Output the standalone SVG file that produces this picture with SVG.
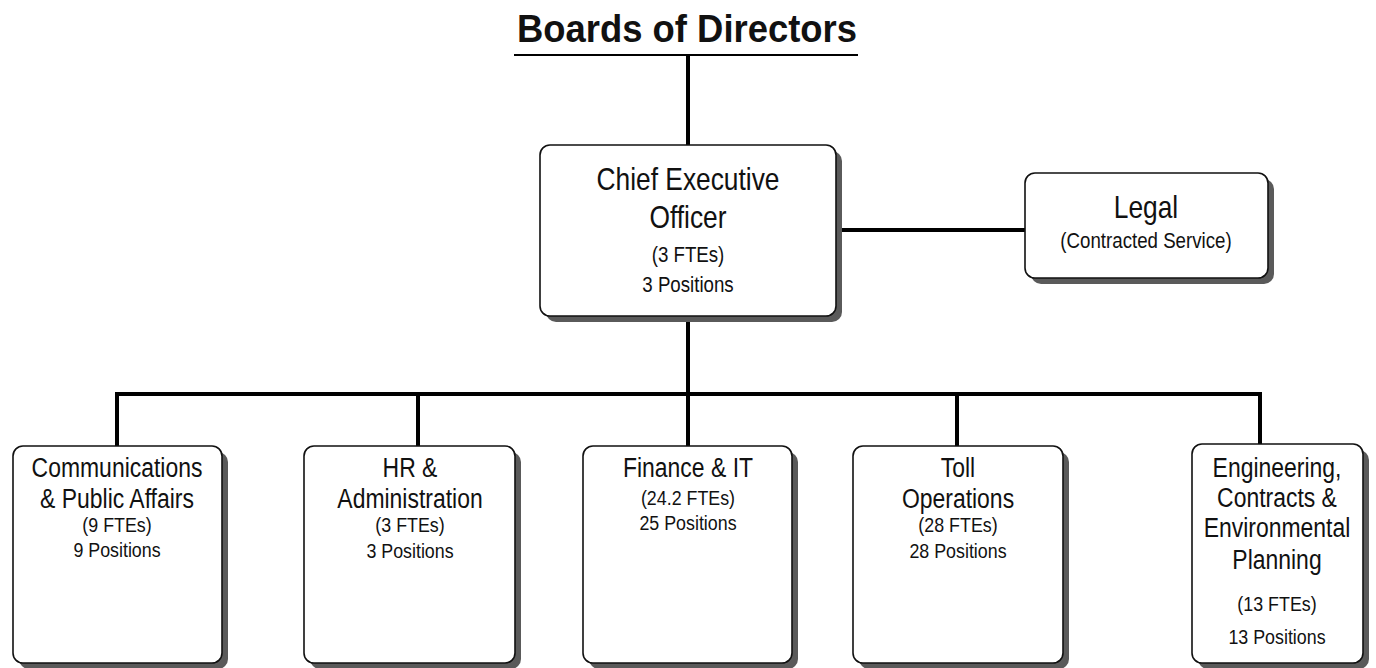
<svg xmlns="http://www.w3.org/2000/svg" width="1376" height="668" viewBox="0 0 1376 668">
<style>
text{font-family:"Liberation Sans",Arial,sans-serif;text-anchor:middle;fill:#111}
.title{font-weight:bold;font-size:39px}
.lg{font-size:27px}
.sm{font-size:21px}
.clg{font-size:31px}
.csm{font-size:22px}
.box{fill:#fff;stroke:#111;stroke-width:1.6}
.shadow{fill:#5a5a5a}
.conn{stroke:#000;stroke-width:4;fill:none}
</style>
<rect width="1376" height="668" fill="#fff"/>
<g id="title">
<text class="title" x="687" y="42" textLength="340" lengthAdjust="spacingAndGlyphs">Boards of Directors</text>
<line x1="514" y1="55" x2="858" y2="55" stroke="#000" stroke-width="2"/>
</g>
<g id="connectors">
<line class="conn" x1="688" y1="56" x2="688" y2="146"/>
<line class="conn" x1="836" y1="230" x2="1026" y2="230"/>
<line class="conn" x1="688" y1="316" x2="688" y2="447"/>
<polyline class="conn" points="117,447 117,394 1260,394 1260,444"/>
<line class="conn" x1="418" y1="394" x2="418" y2="447"/>
<line class="conn" x1="957" y1="394" x2="957" y2="447"/>
</g>
<g id="ceo">
<rect class="shadow" x="546" y="151" width="296" height="171" rx="10"/>
<rect class="box" x="540" y="145" width="296" height="171" rx="10"/>
<g transform="translate(688,0) scale(0.85,1)">
<text class="clg" y="190">Chief Executive</text>
<text class="clg" y="228">Officer</text>
<text class="csm" y="262">(3 FTEs)</text>
<text class="csm" y="292">3 Positions</text>
</g>
</g>
<g id="legal">
<rect class="shadow" x="1031" y="179" width="243" height="105" rx="10"/>
<rect class="box" x="1025" y="173" width="243" height="105" rx="10"/>
<g transform="translate(1146,0) scale(0.85,1)">
<text class="clg" y="218">Legal</text>
<text class="csm" y="248">(Contracted Service)</text>
</g>
</g>
<g id="comm">
<rect class="shadow" x="19" y="452" width="209" height="217" rx="10"/>
<rect class="box" x="13" y="446" width="209" height="217" rx="10"/>
<g transform="translate(117,0) scale(0.85,1)">
<text class="lg" y="477">Communications</text>
<text class="lg" y="508">&amp; Public Affairs</text>
<text class="sm" y="532">(9 FTEs)</text>
<text class="sm" y="557">9 Positions</text>
</g>
</g>
<g id="hr">
<rect class="shadow" x="310" y="452" width="211" height="217" rx="10"/>
<rect class="box" x="304" y="446" width="211" height="217" rx="10"/>
<g transform="translate(410,0) scale(0.85,1)">
<text class="lg" y="477">HR &amp;</text>
<text class="lg" y="508">Administration</text>
<text class="sm" y="532">(3 FTEs)</text>
<text class="sm" y="558">3 Positions</text>
</g>
</g>
<g id="finance">
<rect class="shadow" x="589" y="452" width="209" height="217" rx="10"/>
<rect class="box" x="583" y="446" width="209" height="217" rx="10"/>
<g transform="translate(688,0) scale(0.85,1)">
<text class="lg" y="477">Finance &amp; IT</text>
<text class="sm" y="505">(24.2 FTEs)</text>
<text class="sm" y="530">25 Positions</text>
</g>
</g>
<g id="toll">
<rect class="shadow" x="859" y="452" width="210" height="217" rx="10"/>
<rect class="box" x="853" y="446" width="210" height="217" rx="10"/>
<g transform="translate(958,0) scale(0.85,1)">
<text class="lg" y="477">Toll</text>
<text class="lg" y="508">Operations</text>
<text class="sm" y="532">(28 FTEs)</text>
<text class="sm" y="558">28 Positions</text>
</g>
</g>
<g id="eng">
<rect class="shadow" x="1198" y="450" width="171" height="219" rx="10"/>
<rect class="box" x="1192" y="444" width="171" height="219" rx="10"/>
<g transform="translate(1277,0) scale(0.85,1)">
<text class="lg" y="477">Engineering,</text>
<text class="lg" y="507">Contracts &amp;</text>
<text class="lg" y="537">Environmental</text>
<text class="lg" y="569">Planning</text>
<text class="sm" y="611">(13 FTEs)</text>
<text class="sm" y="644">13 Positions</text>
</g>
</g>
</svg>
